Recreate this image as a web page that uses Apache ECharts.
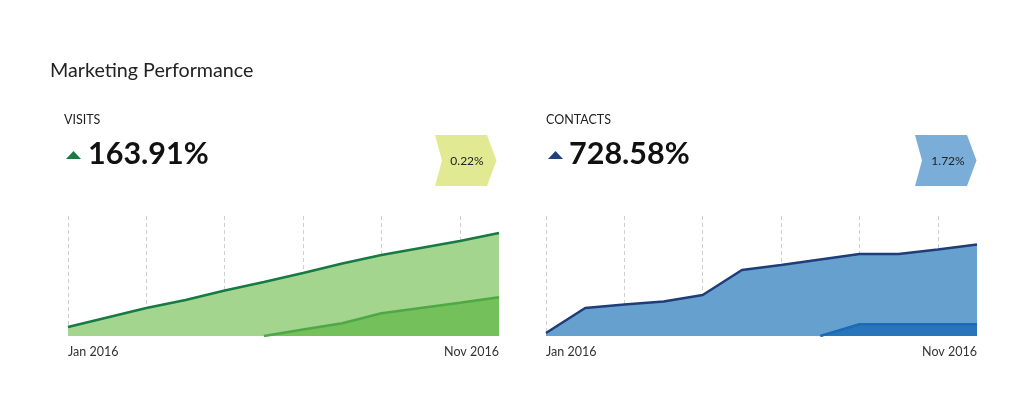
<!DOCTYPE html>
<html>
<head>
<meta charset="utf-8">
<script src="https://cdn.jsdelivr.net/npm/echarts@6/dist/echarts.min.js"></script>
<style>
html,body{margin:0;padding:0;background:#fff;}
#chart{width:1024px;height:394px;}
</style>
</head>
<body>
<div id="chart"></div>
<script>
// ---- data ----
const categories = ['2016-01-04','2016-02-01','2016-02-29','2016-03-28','2016-04-25','2016-05-23','2016-06-20','2016-07-18','2016-08-15','2016-09-12','2016-10-10','2016-11-07'];
const visitsTotal = [9, 18.5, 28, 36, 45.5, 54, 63, 72.5, 81, 88, 95, 103];
const visitsNew = [null, null, null, null, null, 0, 6.5, 12.7, 22.7, 28, 33.3, 38.7];
const contactsTotal = [3, 28, 31.5, 34.5, 41, 66, 71, 76.5, 82, 82, 86.5, 91.5];
const contactsNew = [null, null, null, null, null, null, null, 0, 11.7, 11.7, 11.7, 11.7];
const panelTitles = ['VISITS', 'CONTACTS'];
const kpiValues = ['163.91%', '728.58%'];
const kpiChanges = ['0.22%', '1.72%'];
const chartTitle = 'Marketing Performance';

const monthNames = ['Jan','Feb','Mar','Apr','May','Jun','Jul','Aug','Sep','Oct','Nov','Dec'];
function fmtDate(s){ const p = s.split('-'); return monthNames[+p[1]-1] + ' ' + p[0]; }

const FONT = 'Lato, "Open Sans", sans-serif';
const chart = echarts.init(document.getElementById('chart'), null, {renderer:'canvas'});

function xAxisCfg(gi){
  return {
    type:'category', gridIndex: gi, data: categories, boundaryGap:false,
    axisLine:{show:false}, axisTick:{show:false},
    splitLine:{show:true, interval:1, lineStyle:{color:'#cfcfcf', type:[4,3], width:1}},
    axisLabel:{
      interval: (i)=> i===0 || i===categories.length-1,
      formatter: (v)=> fmtDate(v),
      color:'#333', fontSize:12.5, fontFamily:FONT, margin:9,
      alignMinLabel:'left', alignMaxLabel:'right'
    }
  };
}
function yAxisCfg(gi){
  return {type:'value', gridIndex:gi, min:0, max:120, show:false, splitLine:{show:false}};
}

function chevron(x, color){
  return {
    type:'polygon', shape:{points:[[x,135],[x+52,135],[x+61.5,160.5],[x+52,186],[x,186],[x+7,160.5]]},
    style:{fill:color}
  };
}

const graphics = [
  {type:'text', left:50, top:61, style:{text:chartTitle, font:'19.7px '+FONT, fill:'#222'}},
  {type:'text', left:64, top:113, style:{text:panelTitles[0], font:'12.5px '+FONT, fill:'#222'}},
  {type:'text', left:546, top:113, style:{text:panelTitles[1], font:'12.5px '+FONT, fill:'#222'}},
  {type:'polygon', shape:{points:[[66,159],[81,159],[73.5,151]]}, style:{fill:'#1d7a45'}},
  {type:'polygon', shape:{points:[[548,159],[563,159],[555.5,151]]}, style:{fill:'#1f3f7a'}},
  {type:'text', left:88, top:139, style:{text:kpiValues[0], font:'bold 30.5px '+FONT, fill:'#111'}},
  {type:'text', left:569, top:139, style:{text:kpiValues[1], font:'bold 30.5px '+FONT, fill:'#111'}},
  chevron(435, '#e1ea93'),
  chevron(915, '#7aaed8'),
  {type:'text', x:467, y:161, style:{text:kpiChanges[0], font:'12px '+FONT, fill:'#222', align:'center', verticalAlign:'middle'}},
  {type:'text', x:948, y:161, style:{text:kpiChanges[1], font:'12px '+FONT, fill:'#222', align:'center', verticalAlign:'middle'}}
];

chart.setOption({
  animation:false,
  backgroundColor:'#fff',
  grid:[
    {left:68, top:216, width:431, height:120},
    {left:546, top:216, width:431, height:120}
  ],
  xAxis:[xAxisCfg(0), xAxisCfg(1)],
  yAxis:[yAxisCfg(0), yAxisCfg(1)],
  graphic: graphics,
  series:[
    {type:'line', xAxisIndex:0, yAxisIndex:0, data:visitsTotal, symbol:'none',
     lineStyle:{color:'#177a43', width:2.5}, areaStyle:{color:'#a3d58f', opacity:1}, z:2},
    {type:'line', xAxisIndex:0, yAxisIndex:0, data:visitsNew, symbol:'none',
     lineStyle:{color:'#4fa845', width:2.5}, areaStyle:{color:'#74c05a', opacity:1}, z:3},
    {type:'line', xAxisIndex:1, yAxisIndex:1, data:contactsTotal, symbol:'none',
     lineStyle:{color:'#1f3d78', width:2.5}, areaStyle:{color:'#66a0cf', opacity:1}, z:2},
    {type:'line', xAxisIndex:1, yAxisIndex:1, data:contactsNew, symbol:'none',
     lineStyle:{color:'#1a6cb4', width:2.5}, areaStyle:{color:'#2875bb', opacity:1}, z:3}
  ]
});
</script>
</body>
</html>
